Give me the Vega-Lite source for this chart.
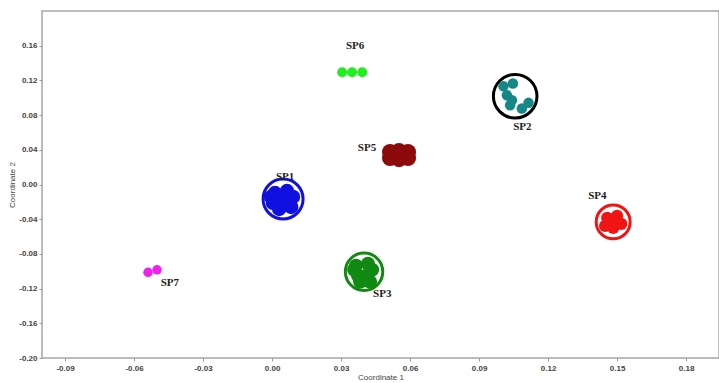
{
  "$schema": "https://vega.github.io/schema/vega-lite/v6.json",
  "width": 677,
  "height": 347,
  "autosize": "none",
  "padding": {"left": 42, "top": 11, "right": 0, "bottom": 25},
  "background": "white",
  "config": {
    "view": {"stroke": "#a6a6a6", "strokeWidth": 1.5},
    "axis": {
      "domain": false,
      "grid": false,
      "tickColor": "#999999",
      "tickSize": 3,
      "labelColor": "#444444",
      "labelFont": "Liberation Sans",
      "labelFontSize": 8,
      "labelFontWeight": "bold",
      "titleFont": "Liberation Sans",
      "titleFontSize": 8,
      "titleFontWeight": "normal",
      "titleColor": "#444444"
    }
  },
  "datasets": {
    "points": [
      {"group": "SP1", "x": 0.0013, "y": -0.0098},
      {"group": "SP1", "x": 0.0065, "y": -0.0075},
      {"group": "SP1", "x": 0.0091, "y": -0.0144},
      {"group": "SP1", "x": 0.0004, "y": -0.0213},
      {"group": "SP1", "x": 0.0048, "y": -0.0190},
      {"group": "SP1", "x": 0.0083, "y": -0.0259},
      {"group": "SP1", "x": 0.0031, "y": -0.0282},
      {"group": "SP1", "x": -0.0004, "y": -0.0144},
      {"group": "SP2", "x": 0.1047, "y": 0.1164},
      {"group": "SP2", "x": 0.1006, "y": 0.1133},
      {"group": "SP2", "x": 0.1021, "y": 0.1029},
      {"group": "SP2", "x": 0.1043, "y": 0.0972},
      {"group": "SP2", "x": 0.1035, "y": 0.0914},
      {"group": "SP2", "x": 0.1086, "y": 0.0876},
      {"group": "SP2", "x": 0.1115, "y": 0.0941},
      {"group": "SP3", "x": 0.0365, "y": -0.0937},
      {"group": "SP3", "x": 0.0417, "y": -0.0914},
      {"group": "SP3", "x": 0.0435, "y": -0.0983},
      {"group": "SP3", "x": 0.0374, "y": -0.1052},
      {"group": "SP3", "x": 0.0409, "y": -0.1052},
      {"group": "SP3", "x": 0.0426, "y": -0.1121},
      {"group": "SP3", "x": 0.0383, "y": -0.1121},
      {"group": "SP3", "x": 0.0357, "y": -0.0983},
      {"group": "SP4", "x": 0.1457, "y": -0.0385},
      {"group": "SP4", "x": 0.1500, "y": -0.0362},
      {"group": "SP4", "x": 0.1518, "y": -0.0454},
      {"group": "SP4", "x": 0.1448, "y": -0.0477},
      {"group": "SP4", "x": 0.1483, "y": -0.0500},
      {"group": "SP4", "x": 0.1474, "y": -0.0420},
      {"group": "SP5", "x": 0.0513, "y": 0.0374},
      {"group": "SP5", "x": 0.0513, "y": 0.0305},
      {"group": "SP5", "x": 0.0552, "y": 0.0385},
      {"group": "SP5", "x": 0.0552, "y": 0.0293},
      {"group": "SP5", "x": 0.0591, "y": 0.0374},
      {"group": "SP5", "x": 0.0591, "y": 0.0305},
      {"group": "SP5", "x": 0.0552, "y": 0.0339},
      {"group": "SP6", "x": 0.0305, "y": 0.1294},
      {"group": "SP6", "x": 0.0348, "y": 0.1294},
      {"group": "SP6", "x": 0.0392, "y": 0.1294},
      {"group": "SP7", "x": -0.0539, "y": -0.1012},
      {"group": "SP7", "x": -0.0500, "y": -0.0983}
    ],
    "rings": [
      {"group": "SP1", "x": 0.0048, "y": -0.0167},
      {"group": "SP2", "x": 0.1057, "y": 0.1018},
      {"group": "SP3", "x": 0.0400, "y": -0.1006},
      {"group": "SP4", "x": 0.1483, "y": -0.0431}
    ],
    "labels": [
      {"group": "SP1", "x": 0.0057, "y": 0.0086},
      {"group": "SP2", "x": 0.1088, "y": 0.0661},
      {"group": "SP3", "x": 0.0479, "y": -0.1259},
      {"group": "SP4", "x": 0.1414, "y": -0.0132},
      {"group": "SP5", "x": 0.0413, "y": 0.0420},
      {"group": "SP6", "x": 0.0361, "y": 0.1593},
      {"group": "SP7", "x": -0.0444, "y": -0.1133}
    ]
  },
  "encoding": {
    "x": {
      "field": "x", "type": "quantitative",
      "scale": {"domain": [-0.1, 0.1943], "nice": false, "zero": false},
      "axis": {
        "title": "Coordinate 1",
        "values": [-0.09, -0.06, -0.03, 0, 0.03, 0.06, 0.09, 0.12, 0.15, 0.18],
        "labelExpr": "replace(format(datum.value, '.2f'), '\u2212', '-')",
        "labelPadding": 3,
        "titlePadding": 1
      }
    },
    "y": {
      "field": "y", "type": "quantitative",
      "scale": {"domain": [-0.2, 0.2], "nice": false, "zero": false},
      "axis": {
        "title": "Coordinate 2",
        "values": [-0.2, -0.16, -0.12, -0.08, -0.04, 0, 0.04, 0.08, 0.12, 0.16],
        "labelExpr": "replace(format(datum.value, '.2f'), '\u2212', '-')",
        "labelPadding": 2,
        "titlePadding": 2
      }
    }
  },
  "resolve": {"scale": {"size": "independent", "color": "independent", "stroke": "independent"}},
  "layer": [
    {
      "data": {"name": "rings"},
      "mark": {"type": "point", "shape": "circle", "filled": false, "strokeWidth": 3, "opacity": 1},
      "encoding": {
        "stroke": {
          "field": "group", "type": "nominal", "legend": null,
          "scale": {"domain": ["SP1", "SP2", "SP3", "SP4"], "range": ["#1010e0", "#000000", "#118a11", "#f01515"]}
        },
        "size": {
          "field": "group", "type": "ordinal", "legend": null,
          "scale": {"type": "ordinal", "domain": ["SP1", "SP2", "SP3", "SP4"], "range": [1600, 1900, 1400, 1150]}
        }
      }
    },
    {
      "data": {"name": "points"},
      "mark": {"type": "point", "shape": "circle", "filled": true, "opacity": 1},
      "encoding": {
        "color": {
          "field": "group", "type": "nominal", "legend": null,
          "scale": {"domain": ["SP1", "SP2", "SP3", "SP4", "SP5", "SP6", "SP7"], "range": ["#1010e0", "#168787", "#118a11", "#f01515", "#8c0a0a", "#22ee22", "#ee22ee"]}
        },
        "size": {
          "field": "group", "type": "ordinal", "legend": null,
          "scale": {"type": "ordinal", "domain": ["SP1", "SP2", "SP3", "SP4", "SP5", "SP6", "SP7"], "range": [210, 110, 200, 150, 260, 100, 90]}
        }
      }
    },
    {
      "data": {"name": "labels"},
      "mark": {"type": "text", "font": "Liberation Serif", "fontWeight": "bold", "fontSize": 11, "color": "#222222", "align": "center", "baseline": "middle"},
      "encoding": {
        "text": {"field": "group", "type": "nominal"}
      }
    }
  ]
}
